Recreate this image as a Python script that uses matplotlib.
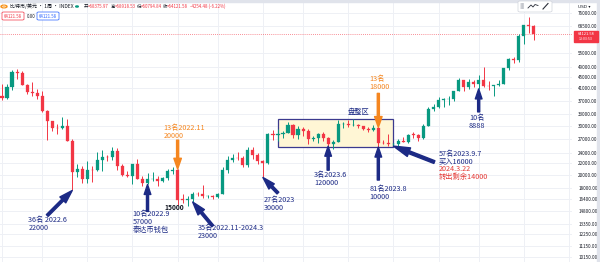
import numpy as np
import pandas as pd
import matplotlib
matplotlib.use("Agg")
import matplotlib.pyplot as plt
from matplotlib.patches import Rectangle, FancyBboxPatch, Circle
from matplotlib.lines import Line2D
from matplotlib.ticker import NullLocator, FixedLocator, FixedFormatter

plt.rcParams['font.family'] = ['Noto Sans CJK SC', 'DejaVu Sans']

# ---- weekly BTC/USD candles, first week starting 2022-03-07 ----
first_week = "2022-03-07"
opens = [38420, 37780, 41260, 46820, 46410, 42160, 39700, 39450, 38470, 34050,
         31300, 29450, 29430, 29900, 26580, 20550, 21030, 19300, 20850, 20800,
         22600, 23300, 23180, 24440, 21530, 20040, 19830, 21830, 19420, 18800,
         19310, 19420, 19070, 19570, 20630, 20920, 16330, 16280, 16450, 17100,
         17080, 16780, 16840, 16620, 17130, 20880, 22710, 23070, 22960, 21800,
         24640, 23560, 22430, 22150, 28000, 27950, 28170, 28330, 30300, 27820,
         29230, 28850, 26900, 27100, 28080, 27230, 25850, 26340, 30480, 30590,
         30170, 30250, 30080, 29230, 29070, 29400, 26100, 26000, 25830, 25840,
         26530, 26260, 27950, 27930, 27150, 29990, 34500, 35020, 37070, 37400,
         37450, 39950, 43800, 41350, 42990, 42280, 43950, 41730, 41580, 42030,
         42580, 48300, 52130, 51730, 63100, 68900, 68375.97]
highs = [42450, 42330, 47700, 48190, 47400, 42400, 42980, 40800, 40000, 34300,
         31350, 30600, 32400, 31700, 26900, 21900, 21500, 22500, 21600, 24200,
         24600, 23600, 25200, 25100, 21900, 20600, 21900, 22800, 19900, 20300,
         20450, 19900, 19700, 21000, 21400, 21000, 17150, 16800, 17350, 17400,
         18400, 16950, 16950, 17180, 21400, 23350, 23800, 24250, 23450, 25250,
         25250, 23900, 22600, 28400, 28950, 29200, 28800, 31000, 30500, 30000,
         29800, 29200, 27600, 28200, 28450, 27400, 26800, 31400, 31000, 31400,
         31800, 30400, 30100, 29800, 30250, 29650, 26800, 28100, 26100, 26950,
         27450, 28050, 28600, 28000, 30400, 35200, 35900, 38000, 37900, 38400,
         40000, 44700, 43900, 44300, 43800, 45900, 49000, 43500, 42200, 43850,
         48550, 52800, 52950, 64000, 69200, 73800, 68918.53]
lows = [37160, 37580, 40500, 44400, 42100, 39200, 38540, 37600, 33700, 26700,
        28700, 28000, 29300, 26560, 17600, 19700, 18700, 18800, 18900, 20700,
        20700, 22400, 22700, 20800, 19800, 19600, 18600, 19300, 18200, 18500,
        19100, 18200, 18900, 19200, 20100, 15600, 15900, 15500, 16000, 16750,
        16550, 16500, 16350, 16560, 17100, 20400, 22300, 22650, 21450, 21400,
        22850, 21950, 19600, 21900, 26650, 26600, 27250, 28200, 27150, 26950,
        27700, 25850, 26400, 26100, 26600, 25380, 24800, 26250, 29500, 29700,
        29950, 29550, 28900, 28600, 28700, 25200, 25800, 25350, 25400, 24900,
        26200, 26000, 27150, 26550, 26950, 29900, 33950, 34800, 34950, 35700,
        36800, 39900, 40200, 40600, 41500, 40750, 41500, 40300, 38550, 41800,
        42300, 47700, 50600, 50900, 59000, 64500, 60794.84]
closes = [37780, 41260, 46820, 46410, 42160, 39700, 39450, 38470, 34050, 31300,
          29450, 29430, 29900, 26580, 20550, 21030, 19300, 20850, 20800, 22600,
          23300, 23180, 24440, 21530, 20040, 19830, 21830, 19420, 18800, 19310,
          19420, 19070, 19570, 20630, 20920, 16330, 16280, 16450, 17100, 17080,
          16780, 16840, 16620, 17130, 20880, 22710, 23070, 22960, 21800, 24640,
          23560, 22430, 22150, 28000, 27950, 28170, 28330, 30300, 27820, 29230,
          28850, 26900, 27100, 28080, 27230, 25850, 26340, 30480, 30590, 30170,
          30250, 30080, 29230, 29070, 29400, 26100, 26000, 25830, 25840, 26530,
          26260, 27950, 27930, 27150, 29990, 34500, 35020, 37070, 37400, 37450,
          39950, 43800, 41350, 42990, 42280, 43950, 41730, 41580, 42030, 42580,
          48300, 52130, 51730, 63100, 68900, 68380, 64121.58]

price_ticks = [76000, 68500, 55000, 49000, 45000, 41000, 37000, 33000, 30000,
               27000, 24000, 22000, 20000, 18000, 16400, 14800, 13350, 12250,
               11150, 10150]
last_price = 64121.58
header_title = "比特币/美元 · 1周 · INDEX"
ohlc_names = ["开", "高", "低", "收"]
ohlc_values = ["=68375.97", "=68918.53", "=60794.84", "=64121.58"]
change_text = "-4254.48 (-6.22%)"

UP = "#089981"
DOWN = "#f23645"
NAVY = "#1c2a85"
ORANGE = "#f5861f"
RED_TXT = "#e53935"
INK = "#131722"

W, H = 600, 262
fig = plt.figure(figsize=(W / 100, H / 100), dpi=100)
fig.patch.set_facecolor("white")

def fx(px):
    return px / W

def fy(py):
    return 1 - py / H

ax = fig.add_axes([0, 0, 572 / W, 1])
ax.set_facecolor("white")
ax.set_yscale("log")
ax.set_ylim(9746, 84960)
ax.set_xlim(-0.4, 113.6)
for s in ax.spines.values():
    s.set_visible(False)

n = len(closes)
idx = np.arange(n)
o = np.array(opens, float)
h = np.array(highs, float)
l = np.array(lows, float)
c = np.array(closes, float)
cols = np.where(c >= o, UP, DOWN)

# grid: price ticks + first week of every odd month
dates = pd.date_range(first_week, periods=120, freq="7D")
grid_x = [k for k in range(1, len(dates)) if dates[k].month % 2 == 1 and dates[k].month != dates[k - 1].month]
grid_x = [0] + grid_x
for gx in grid_x:
    ax.axvline(gx, color="#eef0f5", lw=0.7, zorder=0)
for t in price_ticks:
    ax.axhline(t, color="#eef0f5", lw=0.7, zorder=0)

ax.yaxis.tick_right()
ax.yaxis.set_major_locator(FixedLocator(price_ticks))
ax.yaxis.set_major_formatter(FixedFormatter([f"{t:.2f}" for t in price_ticks]))
ax.yaxis.set_minor_locator(NullLocator())
ax.tick_params(axis="y", length=0, pad=4.5, labelsize=3.3, labelcolor=INK)
ax.set_xticks([])

# consolidation zone
zone = Rectangle((55, 25200), 23, 31800 - 25200, facecolor="#fff6d5",
                 edgecolor="#3b3a8f", lw=0.9, zorder=1)
ax.add_patch(zone)
ax.text(71, 33600, "盘整区", color=NAVY, fontsize=5.2, ha="center", va="center", zorder=5)

# candles
ax.vlines(idx, l, h, colors=cols, lw=0.7, zorder=3)
body_lo = np.minimum(o, c)
body_h = np.maximum(np.abs(c - o), body_lo * 0.004)
ax.bar(idx, body_h, bottom=body_lo, width=0.62, color=cols, edgecolor=cols, lw=0.2, zorder=4)

ax.axhline(last_price, color=DOWN, lw=0.6, ls=(0, (1, 1.5)), alpha=0.75, zorder=2)

PT = 0.72  # points per pixel

def arrow(i, price, dx, dy, color, head=(1.2, 0.8), tail=0.25):
    ax.annotate("", xy=(i, price), xytext=(dx * PT, -dy * PT), textcoords="offset points",
                arrowprops=dict(arrowstyle=f"simple,head_length={head[0]},head_width={head[1]},tail_width={tail}",
                                color=color, mutation_scale=6, shrinkA=0, shrinkB=0),
                zorder=6)

def label(i, price, dx, dy, text, color, ha="left", size=5.2, weight="normal"):
    ax.annotate(text, xy=(i, price), xytext=(dx * PT, -dy * PT), textcoords="offset points",
                ha=ha, va="center", color=color, fontsize=size, linespacing=1.0,
                fontweight=weight, zorder=7)

# 36名 2022.6
arrow(14, lows[14], -25, 25, NAVY, head=(1.6, 1.0), tail=0.3)
label(14, lows[14], -44, 33.5, "36名 2022.6\n22000", NAVY)
# 10名 2022.9
arrow(29, lows[29], 0, 27, NAVY)
label(29, lows[29], -15, 37.5, "10名2022.9\n57000\n泰达币钱包", NAVY)
# 13名 2022.11
arrow(35, highs[35], 0, -29, ORANGE, head=(1.3, 0.9))
label(35, highs[35], -14, -37, "13名2022.11\n20000", ORANGE)
label(35, lows[35], -3.5, 2.5, "15000", INK, ha="center", size=4.8, weight="bold")
# 35名
arrow(38, lows[38], 20, 24, NAVY, head=(1.6, 1.0), tail=0.3)
label(38, lows[38], 5, 30, "35名2022.11-2024.3\n23000", NAVY)
# 27名 2023
arrow(52, lows[52], 15, 15.6, NAVY, head=(1.5, 0.9), tail=0.3)
label(52, lows[52], 1, 26.6, "27名2023\n30000", NAVY)
# 3名 2023.6
arrow(65, lows[65], 0, 24, NAVY)
label(65, lows[65], -14, 33, "3名2023.6\n120000", NAVY)
# 13名 18000
arrow(75, highs[75], 0, -34, ORANGE, head=(1.3, 0.9))
label(75, highs[75], -9, -44, "13名\n18000", ORANGE)
# 81名 2023.8
arrow(75, lows[75], 0, 33, NAVY)
label(75, lows[75], -9, 45.5, "81名2023.8\n10000", NAVY)
# 57名 2023.9.7
arrow(78, lows[78], 41, 16, NAVY, head=(2.0, 1.1), tail=0.35)
label(78, lows[78], 45, 11.5, "57名2023.9.7\n买入16000", NAVY)
label(78, lows[78], 45, 26.5, "2024.3.22\n转出剩余14000", RED_TXT)
# 10名 8888
arrow(95, lows[95], 0, 23, NAVY)
label(95, lows[95], -2, 33, "10名\n8888", NAVY, ha="center")

# ---- header / chrome ----
fig.add_artist(Rectangle((0, fy(2)), 1, 2 / H, transform=fig.transFigure, color="#e0e3eb", zorder=10))
fig.add_artist(Rectangle((fx(597), 0), 3 / W, 1, transform=fig.transFigure, color="#e0e3eb", zorder=10))

# coin badge
fig.add_artist(Circle((fx(4), fy(6.5)), 3 / W, transform=fig.transFigure, color="#f7931a", zorder=11))
fig.add_artist(Circle((fx(4), fy(6.5)), 1.4 / W, transform=fig.transFigure, facecolor="none",
                      edgecolor="white", lw=0.4, zorder=12))
fig.text(fx(9.5), fy(6.5), header_title, fontsize=3.6, color=INK, va="center", zorder=12)
fig.add_artist(Circle((fx(77), fy(6.5)), 1.3 / W, transform=fig.transFigure, color=UP, zorder=11))
name_x = [83.5, 110.5, 137, 163]
for nx, nm, val in zip(name_x, ohlc_names, ohlc_values):
    fig.text(fx(nx), fy(6.5), nm, fontsize=3.2, color=INK, va="center", zorder=12)
    fig.text(fx(nx + 4), fy(6.5), val, fontsize=3.2, color=DOWN, va="center", zorder=12)
fig.text(fx(190), fy(6.5), change_text, fontsize=3.2, color=DOWN, va="center", zorder=12)

def tag(x0, x1, y0, y1, text, color, fill="white", tcolor=None):
    fig.add_artist(FancyBboxPatch((fx(x0), fy(y1)), (x1 - x0) / W, (y1 - y0) / H,
                                  boxstyle="round,pad=0,rounding_size=0.003",
                                  transform=fig.transFigure, facecolor=fill,
                                  edgecolor=color, lw=0.5, zorder=11))
    fig.text(fx((x0 + x1) / 2), fy((y0 + y1) / 2), text, fontsize=3.1,
             color=tcolor or color, ha="center", va="center", zorder=12)

tag(2, 24, 12, 20, f"{last_price:.2f}", DOWN)
fig.text(fx(27), fy(16), "0.00", fontsize=3.1, color=INK, va="center", zorder=12)
tag(37, 59, 12, 20, f"{last_price:.2f}", "#2962ff")

# drawing toolbar
fig.add_artist(FancyBboxPatch((fx(518), fy(12)), 34 / W, 11 / H,
                              boxstyle="round,pad=0,rounding_size=0.004",
                              transform=fig.transFigure, facecolor="white",
                              edgecolor="#d1d4dc", lw=0.5, zorder=11))
for dxp in (521.5, 523):
    for dyp in (4, 6, 8):
        fig.add_artist(Circle((fx(dxp), fy(dyp)), 0.35 / W, transform=fig.transFigure,
                              color="#b2b5be", zorder=12))
fig.add_artist(Line2D([fx(528), fx(531), fx(533), fx(535), fx(538)],
                      [fy(8), fy(5), fy(7), fy(4.5), fy(5.5)],
                      transform=fig.transFigure, color="#2a2e39", lw=0.6, zorder=12))
fig.add_artist(Line2D([fx(543), fx(548)], [fy(9), fy(3.5)],
                      transform=fig.transFigure, color="#2a2e39", lw=0.8, zorder=12))
fig.text(fx(578), fy(6.5), "USD ▾", fontsize=3.1, color=INK, va="center",
         family=["DejaVu Sans"], zorder=12)

# last price tag on the scale
fig.add_artist(Rectangle((fx(574), fy(42)), 24 / W, 11 / H, transform=fig.transFigure,
                         color=DOWN, zorder=11))
fig.text(fx(586), fy(34), f"{last_price:.2f}", fontsize=2.9, color="white",
         ha="center", va="center", zorder=12)
fig.text(fx(586), fy(39.5), "13:03:53", fontsize=2.6, color="white",
         ha="center", va="center", zorder=12)

fig.savefig("out.png", dpi=100)
